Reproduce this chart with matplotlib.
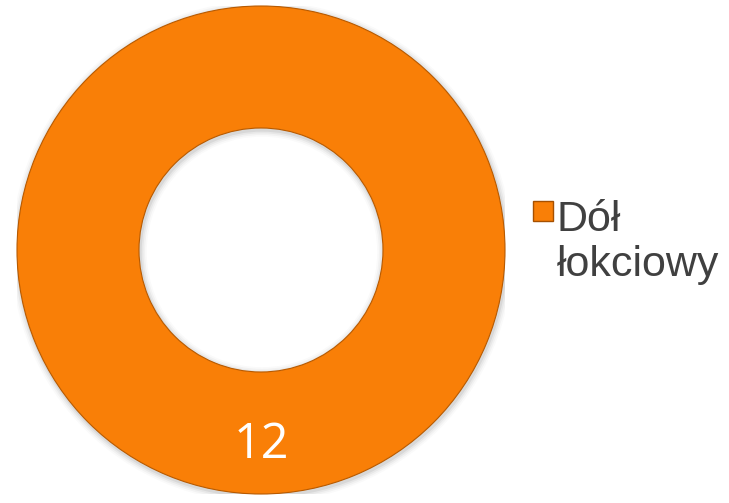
import matplotlib
matplotlib.use("Agg")
import matplotlib.pyplot as plt
from matplotlib.patches import Rectangle, Wedge

categories = ["Dół\nłokciowy"]
values = [12]
colors = ["#F97F07"]

W, H = 729, 503
fig = plt.figure(figsize=(W / 100, H / 100), dpi=100)
fig.patch.set_facecolor("white")

cx, cy, r = 261, 250, 244
ax = fig.add_axes([(cx - r) / W, (H - cy - r) / H, 2 * r / W, 2 * r / H])

wedges, texts, autotexts = ax.pie(
    values, colors=colors, startangle=90, counterclock=False, radius=1.0,
    wedgeprops=dict(width=0.5, edgecolor="#B85A00", linewidth=0.8),
    autopct=lambda p: f"{round(p * sum(values) / 100):d}", pctdistance=0.8,
    textprops=dict(color="white", fontsize=35, family="Open Sans"),
)
for w in wedges:
    w.set_zorder(2)
for t in autotexts:
    t.set_zorder(3)

# soft shadow rings behind the donut
for i, a in enumerate([0.06, 0.045, 0.03, 0.02]):
    d = 0.007 * (i + 1)
    ax.add_patch(Wedge((0.004, -0.008), 1.0 + d, 0, 360, width=0.5 + 2 * d,
                       color="black", alpha=a, lw=0, zorder=1))

ax.set_xlim(-1.0, 1.0)
ax.set_ylim(-1.0, 1.0)
ax.set_aspect("equal")
ax.axis("off")

# legend (manual)
fig.add_artist(Rectangle((533 / W, (H - 221) / H), 20 / W, 20 / H, transform=fig.transFigure,
                         facecolor=colors[0], edgecolor="#A65000", linewidth=1))
fig.text(557 / W, (H - 276) / H, categories[0], fontsize=31, family="Liberation Sans",
         color="#404040", ha="left", va="baseline", linespacing=1.17)

fig.savefig("out.png", dpi=100)
